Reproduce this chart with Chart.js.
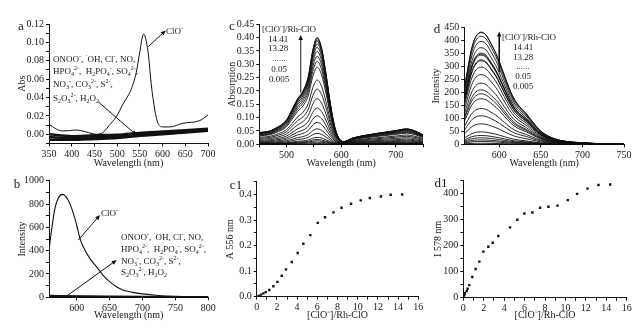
<!DOCTYPE html>
<html>
<head>
<meta charset="utf-8">
<script src="https://cdn.jsdelivr.net/npm/chart.js@4.4.1/dist/chart.umd.min.js"></script>
<style>
  html, body { margin: 0; padding: 0; background: #fff; }
  #fig { position: relative; width: 644px; height: 329px; overflow: hidden;
         font-family: 'Liberation Serif', 'Times New Roman', serif; color: #1a1a1a; }
  #fig canvas { position: absolute; left: 0; top: 0; }
  .lbl { position: absolute; white-space: nowrap; font-size: 9px; line-height: 1; transform: translateY(-50%); }
  .ctr { transform: translate(-50%, -50%); }
  .lbl sup, .lbl sub { font-size: 6px; line-height: 0; }
  .tag { position: absolute; font-size: 13px; line-height: 1; transform: translate(-50%, -50%); }
</style>
</head>
<body>
<div id="fig">
  <canvas id="pa" width="644" height="329"></canvas>
  <canvas id="pb" width="644" height="329"></canvas>
  <canvas id="pc" width="644" height="329"></canvas>
  <canvas id="pd" width="644" height="329"></canvas>
  <canvas id="pc1" width="644" height="329"></canvas>
  <canvas id="pd1" width="644" height="329"></canvas>

  <div class="tag" style="left:21px;top:25px">a</div>
  <div class="tag" style="left:17px;top:183px">b</div>
  <div class="tag" style="left:232px;top:25px">c</div>
  <div class="tag" style="left:437px;top:28px">d</div>
  <div class="tag" style="left:236px;top:184px">c1</div>
  <div class="tag" style="left:441px;top:182px">d1</div>

  <!-- panel a notes -->
  <div class="lbl" style="left:166px;top:31px">ClO<sup>-</sup></div>
  <div class="lbl" style="left:53px;top:59px">ONOO<sup>-</sup>, <sup>·</sup>OH, Cl<sup>-</sup>, NO,</div>
  <div class="lbl" style="left:53px;top:71px">HPO<sub>4</sub><sup>2-</sup>,&nbsp; H<sub>2</sub>PO<sub>4</sub><sup>-</sup>, SO<sub>4</sub><sup>2-</sup>,</div>
  <div class="lbl" style="left:53px;top:84px">NO<sub>3</sub><sup>-</sup>, CO<sub>3</sub><sup>2-</sup>, S<sup>2-</sup>,</div>
  <div class="lbl" style="left:53px;top:98px">S<sub>2</sub>O<sub>3</sub><sup>2-</sup>, H<sub>2</sub>O<sub>2</sub></div>

  <!-- panel b notes -->
  <div class="lbl" style="left:101px;top:213px">ClO<sup>-</sup></div>
  <div class="lbl" style="left:121px;top:237px">ONOO<sup>-</sup>, <sup>·</sup>OH, Cl<sup>-</sup>, NO,</div>
  <div class="lbl" style="left:121px;top:249px">HPO<sub>4</sub><sup>2-</sup>,&nbsp; H<sub>2</sub>PO<sub>4</sub><sup>-</sup>, SO<sub>4</sub><sup>2-</sup>,</div>
  <div class="lbl" style="left:121px;top:261px">NO<sub>3</sub><sup>-</sup>, CO<sub>3</sub><sup>2-</sup>, S<sup>2-</sup>,</div>
  <div class="lbl" style="left:121px;top:272px">S<sub>2</sub>O<sub>3</sub><sup>2-</sup>, H<sub>2</sub>O<sub>2</sub></div>

  <!-- panel c legend -->
  <div class="lbl" style="left:262px;top:29px">[ClO<sup>-</sup>]/Rh-ClO</div>
  <div class="lbl ctr" style="left:278px;top:39px">14.41</div>
  <div class="lbl ctr" style="left:278px;top:48px">13.28</div>
  <div class="lbl ctr" style="left:279px;top:58px">......</div>
  <div class="lbl ctr" style="left:279px;top:69px">0.05</div>
  <div class="lbl ctr" style="left:279px;top:79px">0.005</div>

  <!-- panel d legend -->
  <div class="lbl" style="left:502px;top:37px">[ClO<sup>-</sup>]/Rh-ClO</div>
  <div class="lbl ctr" style="left:523px;top:47px">14.41</div>
  <div class="lbl ctr" style="left:523px;top:57px">13.28</div>
  <div class="lbl ctr" style="left:523px;top:66px">......</div>
  <div class="lbl ctr" style="left:523px;top:76px">0.05</div>
  <div class="lbl ctr" style="left:523px;top:86px">0.005</div>
</div>

<script>
// a: absorbance, ClO- and the other analytes
const aWave = [350, 365, 380, 395, 410, 430, 455, 470, 483, 498, 513, 524, 531, 542, 550, 558, 568, 575, 583, 590, 601, 615, 645, 682, 700];
const aClO  = [0.011, 0.006, 0.0036, 0.004, 0.0047, 0.0028, 0.000, 0.0025, 0.010, 0.019, 0.033, 0.042, 0.049, 0.067, 0.090, 0.109, 0.090, 0.055, 0.026, 0.012, 0.008, 0.008, 0.012, 0.015, 0.021];
const aOtherWave = [350, 400, 450, 500, 550, 600, 650, 700];
const aOtherHi  = [0.000, -0.002, -0.001, -0.0005, 0.0015, 0.003, 0.0045, 0.006];
const aOtherMid = [-0.003, -0.004, -0.003, -0.002, 0.000, 0.0015, 0.003, 0.005];
const aOtherLo  = [-0.006, -0.006, -0.005, -0.004, -0.0015, 0.000, 0.002, 0.004];

// b: fluorescence, ClO- and the other analytes
const bWave = [558, 562, 567, 572, 578, 587, 595, 600, 605, 610, 620, 630, 640, 650, 660, 670, 685, 700, 725, 750, 775, 800];
const bClO  = [406, 580, 763, 849, 883, 834, 720, 620, 506, 434, 334, 263, 191, 134, 93, 63, 42, 29, 16, 9, 5, 3];
const bOtherWave = [558, 600, 650, 700, 750, 800];
const bOtherHi = [12, 8, 5, 3, 2, 2];
const bOtherLo = [4, 3, 2, 1, 1, 1];

// c: absorption spectrum at the highest ratio (peak 556 nm)
const cWave   = [450, 460, 470, 480, 490, 500, 510, 520, 530, 540, 548, 556, 564, 572, 580, 588, 596, 605, 620, 640, 660, 680, 700, 720, 735, 750];
const cTopAbs = [0.044, 0.046, 0.050, 0.060, 0.072, 0.091, 0.129, 0.169, 0.198, 0.254, 0.350, 0.398, 0.360, 0.266, 0.154, 0.066, 0.022, 0.010, 0.0225, 0.032, 0.039, 0.045, 0.051, 0.0575, 0.050, 0.035];

// d: emission spectrum at the highest ratio (peak 578 nm)
const dWave   = [558, 562, 566, 570, 574, 578, 584, 590, 596, 600, 606, 612, 618, 625, 632, 640, 650, 660, 675, 690, 710, 730, 750];
const dTopInt = [216, 287, 357, 402, 425, 432, 422, 389, 351, 319, 267, 216, 174, 143, 120, 87, 51, 30, 14, 8, 4, 1.5, 0.5];

// c1: A 556 nm vs ratio
const c1Ratio = [0.07, 0.23, 0.43, 0.66, 0.89, 1.25, 1.65, 2.05, 2.48, 2.9, 3.47, 4.06, 4.62, 5.31, 6.04, 6.77, 7.6, 8.4, 9.34, 10.3, 11.2, 12.3, 13.26, 14.4];
const c1Abs   = [0.000, 0.003, 0.008, 0.013, 0.018, 0.026, 0.041, 0.058, 0.082, 0.107, 0.136, 0.171, 0.207, 0.241, 0.289, 0.311, 0.330, 0.348, 0.364, 0.377, 0.386, 0.392, 0.399, 0.400];

// d1: I 578 nm vs ratio
const d1Ratio = [0.0, 0.03, 0.1, 0.16, 0.33, 0.42, 0.59, 0.88, 1.21, 1.57, 1.96, 2.45, 2.88, 3.43, 4.58, 5.29, 5.98, 6.76, 7.52, 8.33, 9.22, 10.23, 11.14, 12.16, 13.24, 14.38];
const d1Int   = [0, 4, 11, 17, 25, 34, 48, 79, 110, 138, 176, 195, 210, 236, 269, 298, 322, 326, 344, 348, 352, 373, 397, 417, 431, 433];

const INK = '#111';
const TXT = '#1a1a1a';
const FONT = { family: "'Liberation Serif', 'Times New Roman', serif", size: 10 };

const pts = (xs, ys) => xs.map((x, i) => ({ x: x, y: ys[i] }));

function axis(o) {
  const ax = {
    type: 'linear', min: o.min, max: o.max,
    border: { display: true, color: INK, width: 1 },
    grid: { display: true, drawOnChartArea: false, drawTicks: true, tickLength: 3, color: INK },
    ticks: { font: FONT, color: TXT, padding: 2, autoSkip: false, maxRotation: 0, stepSize: o.step },
    title: { display: true, text: o.title, font: FONT, color: TXT, padding: 0 },
    afterFit: s => { if (s.isHorizontal()) s.height = o.size; else s.width = o.size; }
  };
  if (o.fmt) ax.ticks.callback = o.fmt;
  if (o.at) ax.afterBuildTicks = s => { s.ticks = o.at.map(v => ({ value: v })); };
  return ax;
}

function arrows(items) {
  return {
    id: 'arrows',
    afterDatasetsDraw(chart) {
      const { ctx, scales: { x, y } } = chart;
      items.forEach(a => {
        const x0 = x.getPixelForValue(a.from[0]), y0 = y.getPixelForValue(a.from[1]);
        const x1 = x.getPixelForValue(a.to[0]),   y1 = y.getPixelForValue(a.to[1]);
        const ang = Math.atan2(y1 - y0, x1 - x0);
        const len = 5, w = 2.2, c = Math.cos(ang), s = Math.sin(ang);
        ctx.save();
        ctx.strokeStyle = INK; ctx.fillStyle = INK;
        ctx.lineWidth = a.width || 1;
        ctx.beginPath();
        ctx.moveTo(x0, y0);
        ctx.lineTo(x1 - len * 0.8 * c, y1 - len * 0.8 * s);
        ctx.stroke();
        ctx.beginPath();
        ctx.moveTo(x1, y1);
        ctx.lineTo(x1 - len * c + w * s, y1 - len * s - w * c);
        ctx.lineTo(x1 - len * c - w * s, y1 - len * s + w * c);
        ctx.closePath();
        ctx.fill();
        ctx.restore();
      });
    }
  };
}

function line(data, width) {
  return { data: data, borderColor: INK, borderWidth: width || 1, pointRadius: 0,
           cubicInterpolationMode: 'monotone', fill: false };
}

function dots(data) {
  return { data: data, showLine: false, pointStyle: 'rect', pointRadius: 1.7,
           pointBackgroundColor: INK, pointBorderWidth: 0 };
}

function panel(id, padding, x, y, datasets, arrowItems) {
  new Chart(document.getElementById(id), {
    type: 'line',
    data: { datasets: datasets },
    options: {
      responsive: false,
      animation: false,
      events: [],
      layout: { padding: padding },
      plugins: { legend: { display: false }, tooltip: { enabled: false } },
      scales: { x: x, y: y }
    },
    plugins: [arrows(arrowItems || [])]
  });
}

const even = (v, unit) => Math.round(v / unit) % 2 === 0;

// a
panel('pa', { left: 16, top: 24, right: 436, bottom: 160 },
  axis({ min: 350, max: 700, step: 50, size: 25.5, title: 'Wavelength (nm)' }),
  axis({ min: -0.01, max: 0.12, step: 0.01, size: 33, title: 'Abs',
         fmt: v => even(v, 0.01) ? v.toFixed(2) : '' }),
  [line(pts(aOtherWave, aOtherHi), 2.5), line(pts(aOtherWave, aOtherMid), 2.5),
   line(pts(aOtherWave, aOtherLo), 2.5), line(pts(aWave, aClO), 1)],
  [{ from: [458.5, 0.0353], to: [543, -0.001] }, { from: [568.6, 0.0954], to: [607, 0.1129] }]);

// b
panel('pb', { left: 16.7, top: 180.7, right: 435.7, bottom: 8 },
  axis({ min: 558, max: 800, size: 23.7, title: 'Wavelength (nm)', at: [600, 650, 700, 750, 800] }),
  axis({ min: 0, max: 1000, step: 100, size: 32.3, title: 'Intensity',
         fmt: v => even(v, 100) ? String(Math.round(v)) : '' }),
  [line(pts(bOtherWave, bOtherHi), 2.2), line(pts(bOtherWave, bOtherLo), 2.2),
   line(pts(bWave, bClO), 1.1)],
  [{ from: [602.5, 491], to: [635.5, 706] }, { from: [582.3, 0], to: [660.9, 320] }]);

// c: one spectrum per titration point, scaled to its A(556)
const cPeak = cTopAbs[cWave.indexOf(556)];
panel('pc', { left: 226.7, top: 24.3, right: 221, bottom: 160 },
  axis({ min: 450, max: 750, step: 50, size: 24.7, title: 'Wavelength (nm)',
         fmt: v => v % 100 === 0 ? String(v) : '' }),
  axis({ min: 0, max: 0.45, step: 0.05, size: 32.6, title: 'Absorption',
         fmt: v => v.toFixed(2) }),
  c1Abs.map(a => line(pts(cWave, cTopAbs.map(v => v * a / cPeak)), 0.9)),
  [{ from: [526, 0.1935], to: [526, 0.41] }]);

// d: one emission spectrum per titration point, scaled to its I(578)
const dPeak = dTopInt[dWave.indexOf(578)];
panel('pd', { left: 430.7, top: 27.7, right: 20, bottom: 160 },
  axis({ min: 558, max: 750, size: 24.7, title: 'Wavelength (nm)', at: [600, 650, 700, 750] }),
  axis({ min: 0, max: 450, step: 50, size: 33.6, title: 'Intensity',
         fmt: v => String(Math.round(v)) }),
  d1Int.map(a => line(pts(dWave, dTopInt.map(v => v * a / dPeak)), 0.9)),
  [{ from: [600, 280], to: [600, 435], width: 1.6 }]);

// c1
panel('pc1', { left: 224.7, top: 181.7, right: 225.7, bottom: 8 },
  axis({ min: 0, max: 16, step: 1, size: 24.3, title: '[ClO\u207B]/Rh-ClO',
         fmt: v => even(v, 1) ? String(v) : '' }),
  axis({ min: 0, max: 0.45, step: 0.05, size: 32, title: 'A 556 nm',
         fmt: v => (even(v, 0.05) && v < 0.44) ? v.toFixed(1) : '' }),
  [dots(pts(c1Ratio, c1Abs))]);

// d1
panel('pd1', { left: 432, top: 180, right: 17.3, bottom: 8 },
  axis({ min: 0, max: 16, step: 1, size: 23.3, title: '[ClO\u207B]/Rh-ClO',
         fmt: v => even(v, 1) ? String(v) : '' }),
  axis({ min: 0, max: 450, step: 50, size: 31.3, title: 'I 578 nm',
         fmt: v => (even(v, 50) && v < 440) ? String(Math.round(v)) : '' }),
  [dots(pts(d1Ratio, d1Int))]);
</script>
</body>
</html>
